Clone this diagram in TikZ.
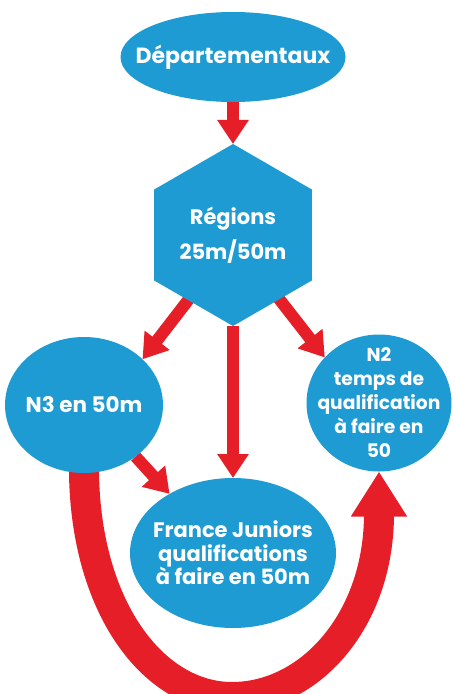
\documentclass[tikz,border=0pt]{standalone}
\usepackage{fontspec}
\setmainfont{Poppins}
\usetikzlibrary{shapes.geometric,arrows.meta}
\pgfdeclarelayer{bg}
\pgfsetlayers{bg,main}
\definecolor{blu}{RGB}{30,155,210}
\definecolor{rd}{RGB}{230,30,40}
\begin{document}
\begin{tikzpicture}[x=1pt,y=1pt,
  lbl/.style={text=white, align=center, inner sep=0pt},
  blob/.style={ellipse, fill=blu, inner sep=0pt, outer sep=0pt},
  arr/.style={draw=rd, line width=12pt, -{Triangle[width=30pt,length=24pt]}},
  bigarr/.style={draw=rd, line width=30pt, -{Triangle[width=53pt,length=45pt]}}]
\useasboundingbox (0,0) rectangle (455,-694);
\clip (0,0) rectangle (455,-694);
\node[blob, minimum width=225pt, minimum height=90pt,
  label={[lbl, font=\bfseries\fontsize{22}{24}\selectfont]center:Départementaux}] (dep) at (233,-57) {};
\node[regular polygon, regular polygon sides=6, shape border rotate=90, minimum size=182pt,
  fill=blu, inner sep=0pt, outer sep=0pt,
  label={[lbl, font=\bfseries\fontsize{21}{35}\selectfont]center:Régions\\25m/50m}] (reg) at (233,-235) {};
\node[blob, minimum width=158pt, minimum height=136pt,
  label={[lbl, font=\bfseries\fontsize{21.5}{24}\selectfont]center:N3 en 50m}] (n3) at (84,-405) {};
\node[blob, minimum width=145pt, minimum height=137pt,
  label={[lbl, font=\bfseries\fontsize{18.7}{24}\selectfont]center:N2\\temps de\\qualification\\à faire en\\50}] (n2) at (379,-403) {};
\node[blob, minimum width=206pt, minimum height=150pt,
  label={[lbl, font=\bfseries\fontsize{21}{23.5}\selectfont]center:France Juniors\\qualifications\\à faire en 50m}] (fj) at (233,-553) {};
\coordinate (rl) at (206,-277);
\coordinate (rr) at (262,-277);
\begin{pgfonlayer}{bg}
\draw[arr] (dep) -- (reg);
\draw[arr] (rl) -- (n3.38);
\draw[arr] (rr) -- (n2.140);
\draw[arr] (reg) -- (fj);
\draw[arr] (n3.-45) -- (fj.137);
\draw[bigarr] (n3.center) -- (n3.south) .. controls (86,-610) and (155,-697) .. (232,-697) .. controls (310,-697) and (379,-620) .. (n2.south);
\end{pgfonlayer}
\end{tikzpicture}
\end{document}
